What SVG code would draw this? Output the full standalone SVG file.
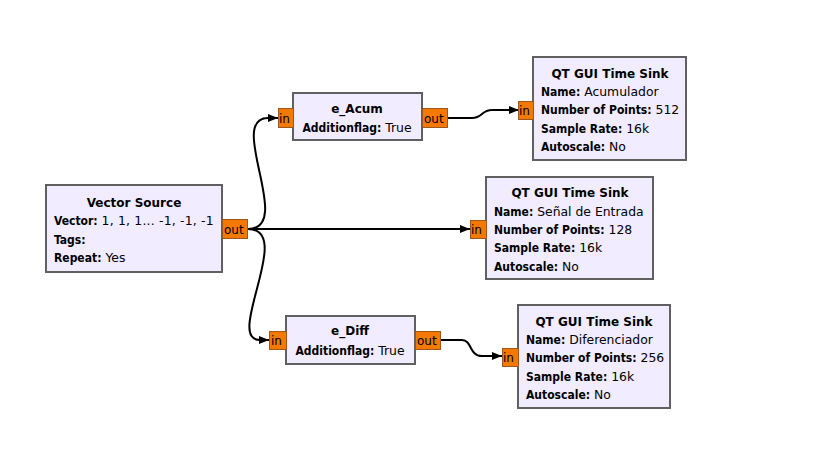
<svg xmlns="http://www.w3.org/2000/svg" width="835" height="468" viewBox="0 0 835 468">
<defs>
<marker id="arr" viewBox="0 0 10 10" refX="10" refY="5" markerWidth="10" markerHeight="10" markerUnits="userSpaceOnUse" orient="auto">
<path d="M0,1 L10,5 L0,9 Z" fill="#000"/>
</marker>
<style>
.blk{fill:#F1ECFF;stroke:#606060;stroke-width:2}
.port{fill:#F37900;stroke:#A0561A;stroke-width:1}
.pt{font-family:"DejaVu Sans",sans-serif;font-size:12px;fill:#000}
.t{font-family:"DejaVu Sans",sans-serif;font-size:12.4px;fill:#000}
.h{font-weight:bold;font-size:12px}
.b{font-weight:bold;font-size:12px;font-family:"DejaVu Sans Condensed","DejaVu Sans",sans-serif;font-stretch:condensed}
.c{text-anchor:middle}
.w{fill:none;stroke:#000;stroke-width:2}
</style>
</defs>
<rect width="835" height="468" fill="#fff"/>
<g id="connectors">
<path class="w" d="M248,229 H470" marker-end="url(#arr)"/>
<path class="w" d="M248,229 C295,229 226,118 268,118 H278" marker-end="url(#arr)"/>
<path class="w" d="M248,229 C295,229 224,340 260,340 H269" marker-end="url(#arr)"/>
<path class="w" d="M447,118 H472 C483,118 481,110 492,110 H519" marker-end="url(#arr)"/>
<path class="w" d="M440,340 H462 C472,340 469,356 482,356 H502" marker-end="url(#arr)"/>
</g>
<g id="vector_source">
<rect class="blk" x="46" y="185" width="176" height="87"/>
<rect class="port" x="222.5" y="219.5" width="25" height="19"/>
<text class="pt" x="224" y="234">out</text>
<text class="t h c" x="134" y="207">Vector Source</text>
<text class="t" x="54" y="225"><tspan class="b">Vector:</tspan> <tspan letter-spacing="0.2">1, 1, 1... -1, -1, -1</tspan></text>
<text class="t b" x="54" y="244">Tags:</text>
<text class="t" x="54" y="262"><tspan class="b">Repeat:</tspan> Yes</text>
</g>
<g id="e_acum">
<rect class="blk" x="293" y="93" width="129" height="47"/>
<rect class="port" x="278.5" y="108.5" width="15" height="19"/>
<text class="pt" x="279" y="123">in</text>
<rect class="port" x="422.5" y="108.5" width="25" height="19"/>
<text class="pt" x="424" y="123">out</text>
<text class="t h c" x="357" y="113">e_Acum</text>
<text class="t c" x="357" y="132"><tspan class="b">Additionflag:</tspan> True</text>
</g>
<g id="e_diff">
<rect class="blk" x="286" y="316" width="129" height="48"/>
<rect class="port" x="269.5" y="331.5" width="17" height="18"/>
<text class="pt" x="271" y="345">in</text>
<rect class="port" x="415.5" y="331.5" width="25" height="18"/>
<text class="pt" x="417" y="345">out</text>
<text class="t h c" x="350" y="335">e_Diff</text>
<text class="t c" x="350" y="355"><tspan class="b">Additionflag:</tspan> True</text>
</g>
<g id="sink_acum">
<rect class="blk" x="533" y="57" width="153" height="103"/>
<rect class="port" x="518.5" y="101.5" width="15" height="18"/>
<text class="pt" x="519" y="115">in</text>
<text class="t h c" x="610" y="78">QT GUI Time Sink</text>
<text class="t" x="541" y="96"><tspan class="b">Name:</tspan> Acumulador</text>
<text class="t" x="541" y="114"><tspan class="b">Number of Points:</tspan> 512</text>
<text class="t" x="541" y="133"><tspan class="b">Sample Rate:</tspan> 16k</text>
<text class="t" x="541" y="151"><tspan class="b">Autoscale:</tspan> No</text>
</g>
<g id="sink_entrada">
<rect class="blk" x="486" y="177" width="167" height="102"/>
<rect class="port" x="470.5" y="220.5" width="16" height="18"/>
<text class="pt" x="471" y="234">in</text>
<text class="t h c" x="570" y="197">QT GUI Time Sink</text>
<text class="t" x="494" y="216"><tspan class="b">Name:</tspan> Señal de Entrada</text>
<text class="t" x="494" y="234"><tspan class="b">Number of Points:</tspan> 128</text>
<text class="t" x="494" y="252"><tspan class="b">Sample Rate:</tspan> 16k</text>
<text class="t" x="494" y="271"><tspan class="b">Autoscale:</tspan> No</text>
</g>
<g id="sink_diff">
<rect class="blk" x="518" y="305" width="152" height="103"/>
<rect class="port" x="502.5" y="348.5" width="16" height="18"/>
<text class="pt" x="503" y="362">in</text>
<text class="t h c" x="594" y="326">QT GUI Time Sink</text>
<text class="t" x="526" y="344"><tspan class="b">Name:</tspan> Diferenciador</text>
<text class="t" x="526" y="362"><tspan class="b">Number of Points:</tspan> 256</text>
<text class="t" x="526" y="381"><tspan class="b">Sample Rate:</tspan> 16k</text>
<text class="t" x="526" y="399"><tspan class="b">Autoscale:</tspan> No</text>
</g>
</svg>
